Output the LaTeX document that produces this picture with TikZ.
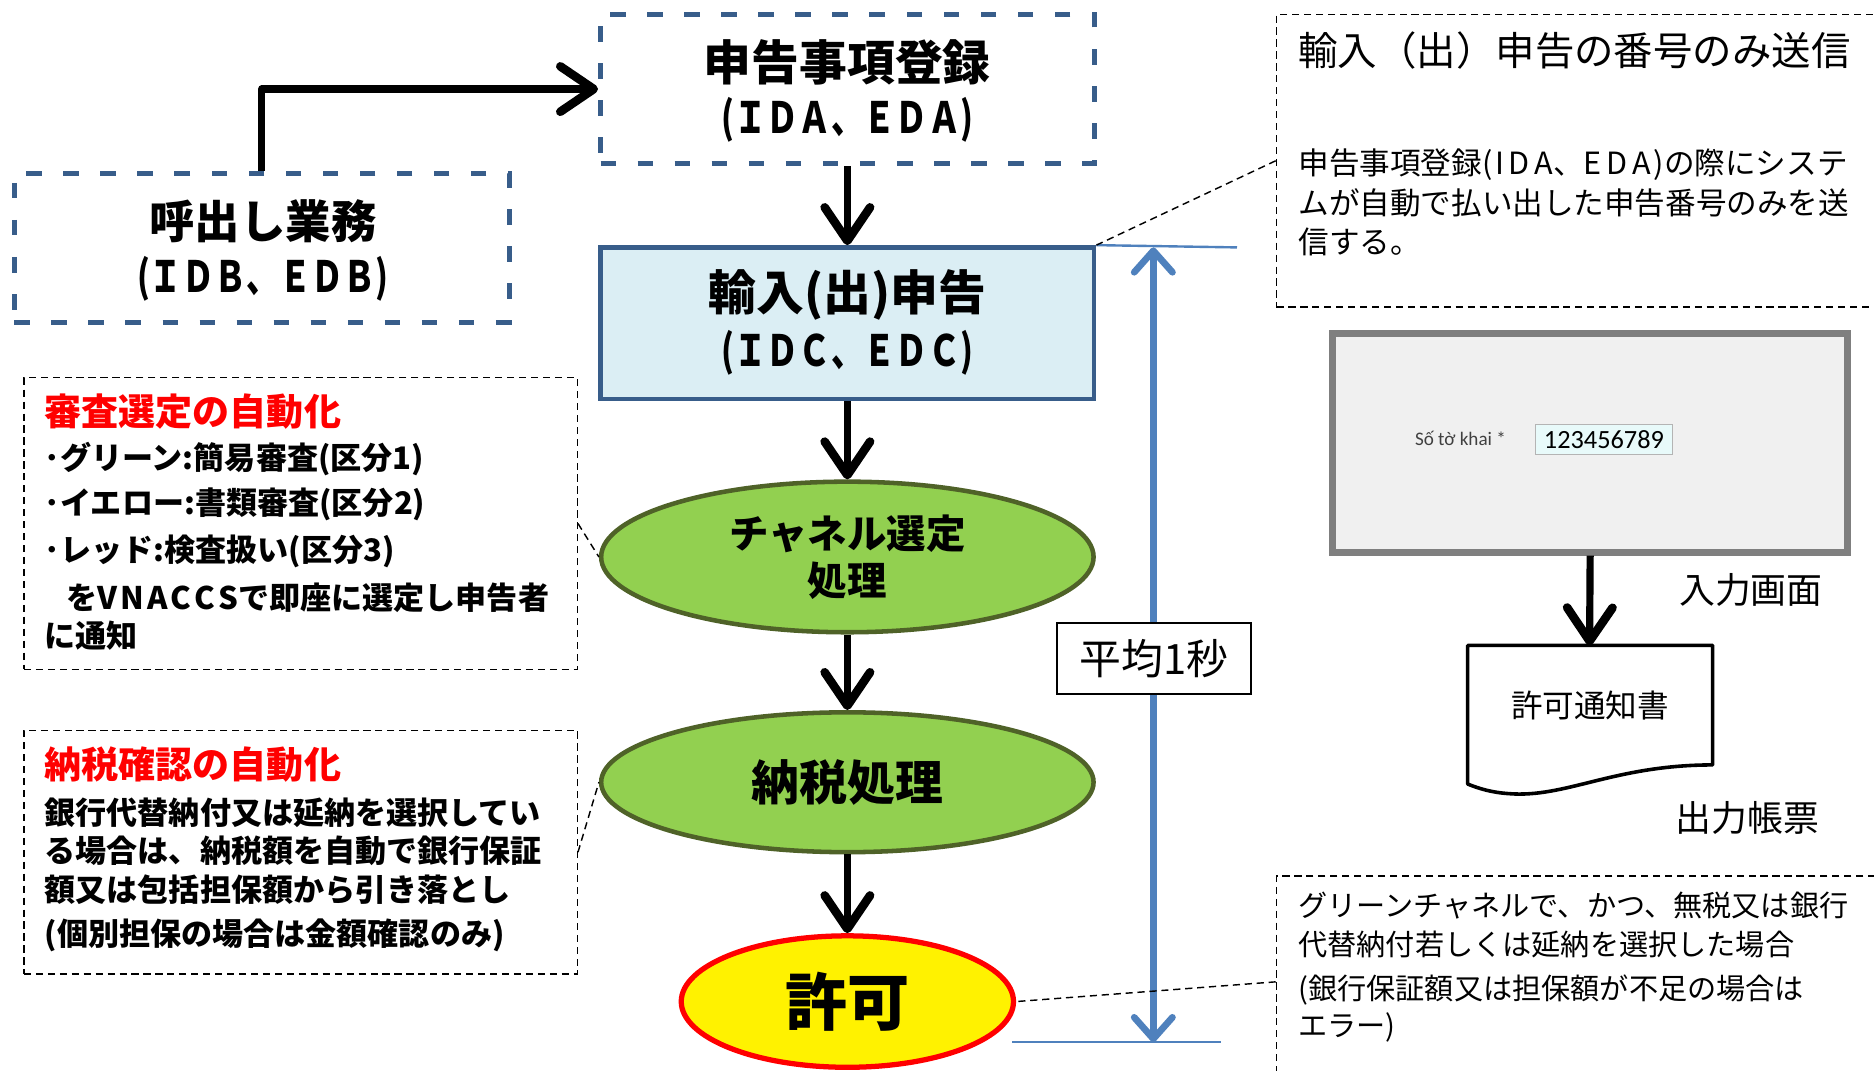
\documentclass[tikz,border=0pt]{standalone}
\usepackage{fontspec}
\setmainfont{Noto Sans CJK JP}
\newfontfamily\narrowf[FakeStretch=0.75]{Noto Sans CJK JP}
\newfontfamily\calib{Carlito}
\usetikzlibrary{arrows.meta,shapes.geometric}
\definecolor{dblue}{HTML}{385D8A}
\definecolor{lblue}{HTML}{DBEEF4}
\definecolor{olivefour}{HTML}{4F6228}
\definecolor{greenfive}{HTML}{92D050}
\definecolor{mblue}{HTML}{4F81BD}
\definecolor{scrgray}{HTML}{7F7F7F}
\definecolor{scrfill}{HTML}{F0F0F0}
\definecolor{fldfill}{HTML}{E8FAFA}
\definecolor{fldline}{HTML}{B4B4B4}
\definecolor{labgray}{HTML}{404040}
\newcommand\fsz[1]{\fontsize{#1}{#1}\selectfont}
\begin{document}
\begin{tikzpicture}[x=0.5pt,y=-0.5pt,
 dbox/.style={rectangle, draw=dblue, line width=2.1pt, dash pattern=on 6.5pt off 9pt, inner sep=0pt},
 cbox/.style={rectangle, draw=dblue, fill=lblue, line width=1.9pt, inner sep=0pt},
 proc/.style={ellipse, draw=olivefour, fill=greenfive, line width=1.9pt, inner sep=0pt},
 okel/.style={ellipse, draw=red, fill=yellow, line width=2.2pt, inner sep=0pt},
 blkarrow/.style={line width=3pt, line join=round, -{Straight Barb[round,length=14pt,width=19pt,line width=3.6pt]}},
 bluearrow/.style={draw=mblue, line width=2.8pt, {Straight Barb[round,length=9pt,width=16pt]}-{Straight Barb[round,length=9pt,width=16pt]}},
 tickline/.style={draw=mblue, line width=1pt},
 callout/.style={rectangle, draw, line width=0.6pt, dash pattern=on 3pt off 2pt, inner sep=0pt},
 leader/.style={draw, line width=0.6pt, dash pattern=on 3pt off 2pt},
 ltxt/.style={inner sep=0pt, anchor=west},
 ctxt/.style={inner sep=0pt},
]
\useasboundingbox (0,0) rectangle (1568,896);
\fill[white] (0,0) rectangle (1568,896);

% main flow boxes
\node[dbox, minimum width=206.5pt, minimum height=62.5pt] (ida) at (709,74.5) {};
\node[ctxt, font=\bfseries\fsz{20pt}] (ida1) at (709,52) {申告事項登録};
\node[ctxt, font=\narrowf\bfseries\fsz{18pt}] (ida2) at (709,100) {(ＩＤＡ、ＥＤＡ)};

\node[dbox, minimum width=207pt, minimum height=62.5pt] (idb) at (219,207.5) {};
\node[ctxt, font=\bfseries\fsz{19pt}] (idb1) at (220,185) {呼出し業務};
\node[ctxt, font=\narrowf\bfseries\fsz{18pt}] (idb2) at (220,233) {(ＩＤＢ、ＥＤＢ)};

\node[cbox, minimum width=206.5pt, minimum height=63.5pt] (idc) at (709,270.5) {};
\node[ctxt, font=\bfseries\fsz{20pt}] (idc1) at (709,247) {輸入(出)申告};
\node[ctxt, font=\narrowf\bfseries\fsz{18pt}] (idc2) at (709,295) {(ＩＤＣ、ＥＤＣ)};

\node[proc, minimum width=206pt, minimum height=63pt, align=center, font=\bfseries\fsz{16.5pt}] (ch) at (709,466) {チャネル選定\\[3pt]処理};
\node[proc, minimum width=206pt, minimum height=58.5pt, font=\bfseries\fsz{20pt}] (nz) at (709,654.5) {納税処理};
\node[okel, minimum width=139pt, minimum height=55pt, font=\bfseries\fsz{26pt}] (kk) at (709,838) {許可};

% flow arrows
\draw[blkarrow] (idb.north) |- (ida.west);
\draw[blkarrow] (ida.south) -- (idc.north);
\draw[blkarrow] (idc.south) -- (ch.north);
\draw[blkarrow] (ch.south) -- (nz.north);
\draw[blkarrow] (nz.south) -- (kk.north);

% measurement
\coordinate (mt) at (965,207);
\coordinate (mtR) at (1035,207);
\coordinate (mb) at (965,872);
\coordinate (mbL) at (847,872);
\coordinate (mbR) at (1022,872);
\draw[tickline] (idc.north east) -- (mtR);
\draw[tickline] (mbL) -- (mbR);
\draw[bluearrow] (mt) -- (mb);
\node[rectangle, draw, fill=white, line width=0.85pt, minimum width=81.5pt, minimum height=29.5pt, inner sep=0pt, font=\fsz{17.5pt}] (avg) at (965.5,551) {平均1秒};

% left callouts
\node[callout, minimum width=231.5pt, minimum height=122pt] (cb1) at (251.5,438) {};
\node[ltxt, font=\bfseries\fsz{15.5pt}, text=red] (cb1h) at (37,344) {審査選定の自動化};
\node[ltxt, font=\bfseries\fsz{13pt}] (cb1a) at (37,384) {･グリーン:簡易審査(区分1)};
\node[ltxt, font=\bfseries\fsz{13pt}] (cb1b) at (37,422) {･イエロー:書類審査(区分2)};
\node[ltxt, font=\bfseries\fsz{13pt}] (cb1c) at (37,461) {･レッド:検査扱い(区分3)};
\node[ltxt, font=\bfseries\fsz{13pt}] (cb1d) at (55,500) {をV\kern.1em N\kern.1em A\kern.1em C\kern.1em C\kern.1em Sで即座に選定し申告者};
\node[ltxt, font=\bfseries\fsz{13pt}] (cb1e) at (37,532) {に通知};
\draw[leader] (cb1.east) -- (ch.west);

\node[callout, minimum width=231.5pt, minimum height=102pt] (cb2) at (251.5,713) {};
\node[ltxt, font=\bfseries\fsz{15.5pt}, text=red] (cb2h) at (37,640) {納税確認の自動化};
\node[ltxt, font=\bfseries\fsz{13pt}] (cb2a) at (37,680) {銀行代替納付又は延納を選択してい};
\node[ltxt, font=\bfseries\fsz{13pt}] (cb2b) at (37,712) {る場合は、納税額を自動で銀行保証};
\node[ltxt, font=\bfseries\fsz{13pt}] (cb2c) at (37,744) {額又は包括担保額から引き落とし};
\node[ltxt, font=\bfseries\fsz{13pt}] (cb2d) at (37,783) {(個別担保の場合は金額確認のみ)};
\draw[leader] (cb2.east) -- (nz.west);

% top-right callout
\node[callout, minimum width=261pt, minimum height=122.5pt] (ctr) at (1329,134.5) {};
\node[ltxt, font=\fsz{16.5pt}] (ctrh) at (1086,42) {輸入（出）申告の番号のみ送信};
\node[ltxt, font=\fsz{12.8pt}] (ctra) at (1086,138) {申告事項登録(\kern.1em I\kern.15em D\kern.15em A、E\kern.15em D\kern.15em A\kern.1em)の際にシステ};
\node[ltxt, font=\fsz{12.8pt}] (ctrb) at (1086,170) {ムが自動で払い出した申告番号のみを送};
\node[ltxt, font=\fsz{12.8pt}] (ctrc) at (1086,202) {信する。};
\draw[leader] (ctr.west) -- (idc.north east);

% bottom-right callout
\node[callout, minimum width=261pt, minimum height=88.5pt] (cbr) at (1329,821.5) {};
\node[ltxt, font=\fsz{12.2pt}] (cbra) at (1086,758) {グリーンチャネルで、かつ、無税又は銀行};
\node[ltxt, font=\fsz{12.2pt}] (cbrb) at (1086,790) {代替納付若しくは延納を選択した場合};
\node[ltxt, font=\fsz{12.2pt}] (cbrc) at (1086,828) {(銀行保証額又は担保額が不足の場合は};
\node[ltxt, font=\fsz{12.2pt}] (cbrd) at (1086,860) {エラー)};
\draw[leader] (cbr.west) -- (kk.east);

% input screen
\node[rectangle, draw=scrgray, fill=scrfill, line width=2.8pt, minimum width=215.5pt, minimum height=91.5pt, inner sep=0pt] (scr) at (1330.5,370.5) {};
\node[ctxt, font=\calib\fsz{8pt}, text=labgray] (sotk) at (1222,367) {Số tờ khai *};
\node[rectangle, draw=fldline, fill=fldfill, line width=0.5pt, minimum width=57.5pt, minimum height=12.5pt, inner sep=0pt, font=\calib\fsz{11pt}] (fld) at (1342,368) {123456789};
\node[ctxt, font=\fsz{15pt}] (nyu) at (1465,494) {入力画面};

% output document
\draw[line width=1.5pt, line join=round, fill=white] (1228,540) -- (1433,540) -- (1433,640)
  .. controls (1350,640) and (1310,668) .. (1262,664)
  .. controls (1248,663) and (1238,660) .. (1228,656) -- cycle;
\coordinate (doctop) at (1330,540);
\node[ctxt, font=\fsz{13.2pt}] (doc) at (1330.5,590) {許可通知書};
\node[ctxt, font=\fsz{15pt}] (shu) at (1462,684) {出力帳票};
\draw[blkarrow] (scr.south) -- (doctop);
\end{tikzpicture}
\end{document}
